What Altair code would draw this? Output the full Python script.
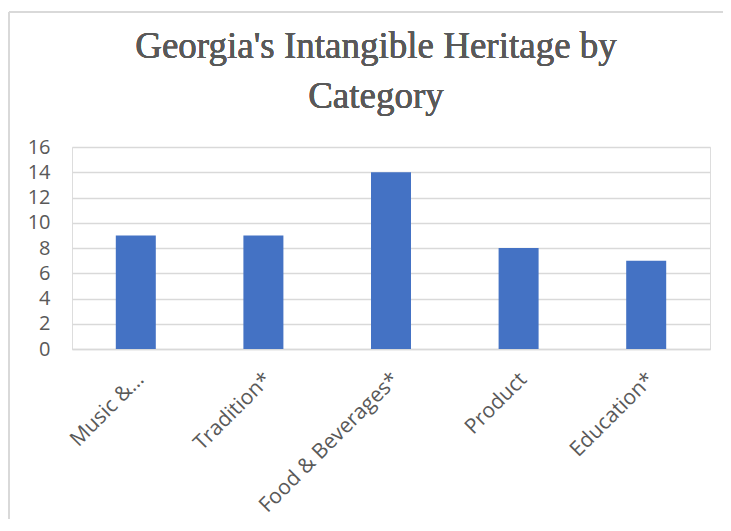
import altair as alt
import pandas as pd

categories = ["Music &…", "Tradition*", "Food & Beverages*", "Product", "Education*"]
counts = [9, 9, 14, 8, 7]
y_ticks = [0, 2, 4, 6, 8, 10, 12, 14, 16]
title_line1 = "Georgia's Intangible Heritage by"
title_line2 = "Category"

df = pd.DataFrame({"category": categories, "count": counts})

GRAY = "#595959"
LINE = "#d9d9d9"
FONT = "Open Sans"
SERIF = "Liberation Serif"

bars = alt.Chart(df).mark_bar(color="#4472C4", size=40).encode(
    x=alt.X(
        "category:N",
        sort=categories,
        title=None,
        scale=alt.Scale(paddingInner=0, paddingOuter=0),
        axis=alt.Axis(
            labelAngle=-45,
            labelAlign="right",
            labelBaseline="middle",
            labelPadding=27,
            labelOffset=5,
            labelFont=FONT,
            labelFontSize=21,
            labelColor=GRAY,
            ticks=False,
            domainColor=LINE,
            domainWidth=1.5,
            labelLimit=300,
        ),
    ),
    y=alt.Y(
        "count:Q",
        title=None,
        scale=alt.Scale(domain=[0, 16]),
        axis=alt.Axis(
            values=y_ticks,
            labelFont=FONT,
            labelFontSize=20,
            labelColor=GRAY,
            labelPadding=22,
            ticks=False,
            domain=False,
            gridColor=LINE,
            gridWidth=1.5,
        ),
    ),
)

top_border = alt.Chart(df).mark_rule(color=LINE, strokeWidth=2).encode(
    x=alt.value(-63), x2=alt.value(651), y=alt.value(-135)
)
left_border = alt.Chart(df).mark_rule(color=LINE, strokeWidth=2).encode(
    x=alt.value(-63), y=alt.value(-135), y2=alt.value(372)
)

title1 = alt.Chart(df).mark_text(
    font=SERIF, fontSize=37, color=GRAY, align="center", baseline="alphabetic"
).encode(text=alt.value(title_line1), x=alt.value(304), y=alt.value(-89))
title2 = alt.Chart(df).mark_text(
    font=SERIF, fontSize=37, color=GRAY, align="center", baseline="alphabetic"
).encode(text=alt.value(title_line2), x=alt.value(304), y=alt.value(-39))

chart = (
    alt.layer(bars, top_border, left_border, title1, title2)
    .properties(
        width=638,
        height=202,
        autosize=alt.AutoSizeParams(type="none"),
        padding={"left": 64, "top": 139, "right": 13, "bottom": 170},
    )
    .configure_view(strokeWidth=0)
    .configure(background="white")
)

chart.save("out.html", embed_options={"renderer": "svg", "actions": False})
